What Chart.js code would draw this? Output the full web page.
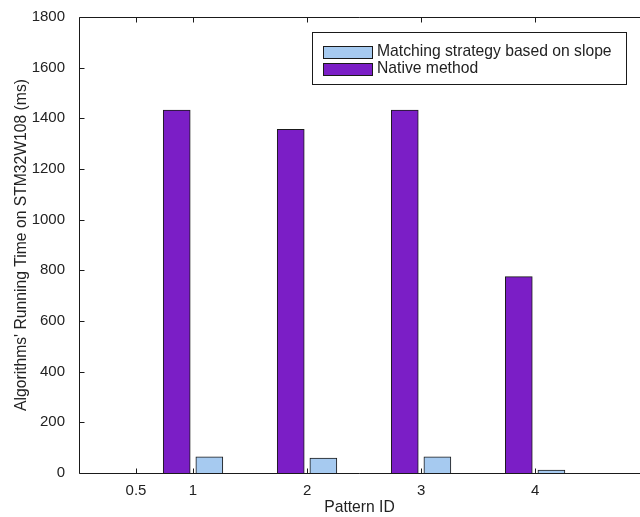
<!DOCTYPE html>
<html><head><meta charset="utf-8">
<script src="https://cdn.jsdelivr.net/npm/chart.js@4/dist/chart.umd.min.js"></script>
<style>html,body{margin:0;padding:0;background:#fff}</style>
</head><body>
<canvas id="c" width="640" height="517"></canvas>
<script>
const categories = [1, 2, 3, 4];
const xTickValues = [0.5, 1, 2, 3, 4];
const yTickValues = [0, 200, 400, 600, 800, 1000, 1200, 1400, 1600, 1800];
const matchingTimes = [64, 59, 64, 12];
const nativeTimes = [1433, 1357, 1433, 775];
const seriesLabels = ['Matching strategy based on slope', 'Native method'];
const xTitle = 'Pattern ID';
const yTitle = "Algorithms' Running Time on STM32W108 (ms)";

const FONT = 'Liberation Sans, Arial, sans-serif';
const groupOffset = 0.143;

const matchingPoints = categories.map((c, i) => ({ x: c + groupOffset, y: matchingTimes[i] }));
const nativePoints = categories.map((c, i) => ({ x: c - groupOffset, y: nativeTimes[i] }));

const matlabPlugin = {
  id: 'matlabAxes',
  afterDraw(chart) {
    const { ctx, chartArea: a, scales: { x, y } } = chart;
    ctx.save();
    ctx.strokeStyle = '#1a1a1a';
    ctx.lineWidth = 1;
    ctx.beginPath();
    const L = Math.round(a.left) + 0.5, T = Math.round(a.top) + 0.5, B = Math.round(a.bottom) + 0.5;
    ctx.moveTo(a.right, T); ctx.lineTo(L, T); ctx.lineTo(L, B); ctx.lineTo(a.right, B);
    yTickValues.forEach(v => {
      const py = Math.round(y.getPixelForValue(v)) + 0.5;
      ctx.moveTo(L, py); ctx.lineTo(L + 5, py);
    });
    xTickValues.forEach(v => {
      const px = Math.round(x.getPixelForValue(v)) + 0.5;
      ctx.moveTo(px, B); ctx.lineTo(px, B - 5);
      ctx.moveTo(px, T); ctx.lineTo(px, T + 5);
    });
    ctx.stroke();

    const lx = 312.5, ly = 32.5, lw = 314, lh = 52;
    ctx.fillStyle = '#fff';
    ctx.fillRect(lx, ly, lw, lh);
    ctx.strokeStyle = '#1a1a1a';
    ctx.strokeRect(lx, ly, lw, lh);
    ctx.font = '15.7px ' + FONT;
    ctx.textBaseline = 'middle';
    chart.data.datasets.forEach((ds, i) => {
      const cy = 51.5 + i * 17.5;
      ctx.fillStyle = ds.backgroundColor;
      ctx.fillRect(323.5, Math.round(cy - 6) + 0.5, 49, 12);
      ctx.strokeStyle = '#1a1a1a';
      ctx.strokeRect(323.5, Math.round(cy - 6) + 0.5, 49, 12);
      ctx.fillStyle = '#222';
      ctx.fillText(ds.label, 377, cy);
    });
    ctx.restore();
  }
};

new Chart(document.getElementById('c'), {
  type: 'bar',
  data: {
    datasets: [
      { label: seriesLabels[0], data: matchingPoints, backgroundColor: '#a6caf0', borderColor: '#1a1a1a', borderWidth: 1, barThickness: 27, grouped: false },
      { label: seriesLabels[1], data: nativePoints, backgroundColor: '#7b1ec6', borderColor: '#1a1a1a', borderWidth: 1, barThickness: 27, grouped: false }
    ]
  },
  options: {
    responsive: false,
    animation: false,
    layout: { padding: { top: 17, left: 0, right: 0, bottom: 0 } },
    plugins: { legend: { display: false }, tooltip: { enabled: false } },
    scales: {
      x: {
        type: 'linear', min: 0, max: 4.92, offset: false,
        afterBuildTicks: s => { s.ticks = xTickValues.map(v => ({ value: v })); },
        afterFit: s => { s.height = 44; },
        grid: { display: false },
        border: { display: false },
        ticks: { font: { family: FONT, size: 15 }, color: '#222', padding: 1, maxRotation: 0, autoSkip: false, callback: v => String(v) },
        title: { display: true, text: xTitle, font: { family: FONT, size: 15.7 }, color: '#222', padding: { top: 0, bottom: 0 } }
      },
      y: {
        min: 0, max: 1800,
        afterBuildTicks: s => { s.ticks = yTickValues.map(v => ({ value: v })); },
        afterFit: s => { s.width = 79; },
        grid: { display: false },
        border: { display: false },
        ticks: { font: { family: FONT, size: 15 }, color: '#222', padding: 6, callback: v => String(v) },
        title: { display: true, text: yTitle, font: { family: FONT, size: 15.7 }, color: '#222', padding: { top: 12, bottom: 0 } }
      }
    }
  },
  plugins: [matlabPlugin]
});
</script>
</body></html>
